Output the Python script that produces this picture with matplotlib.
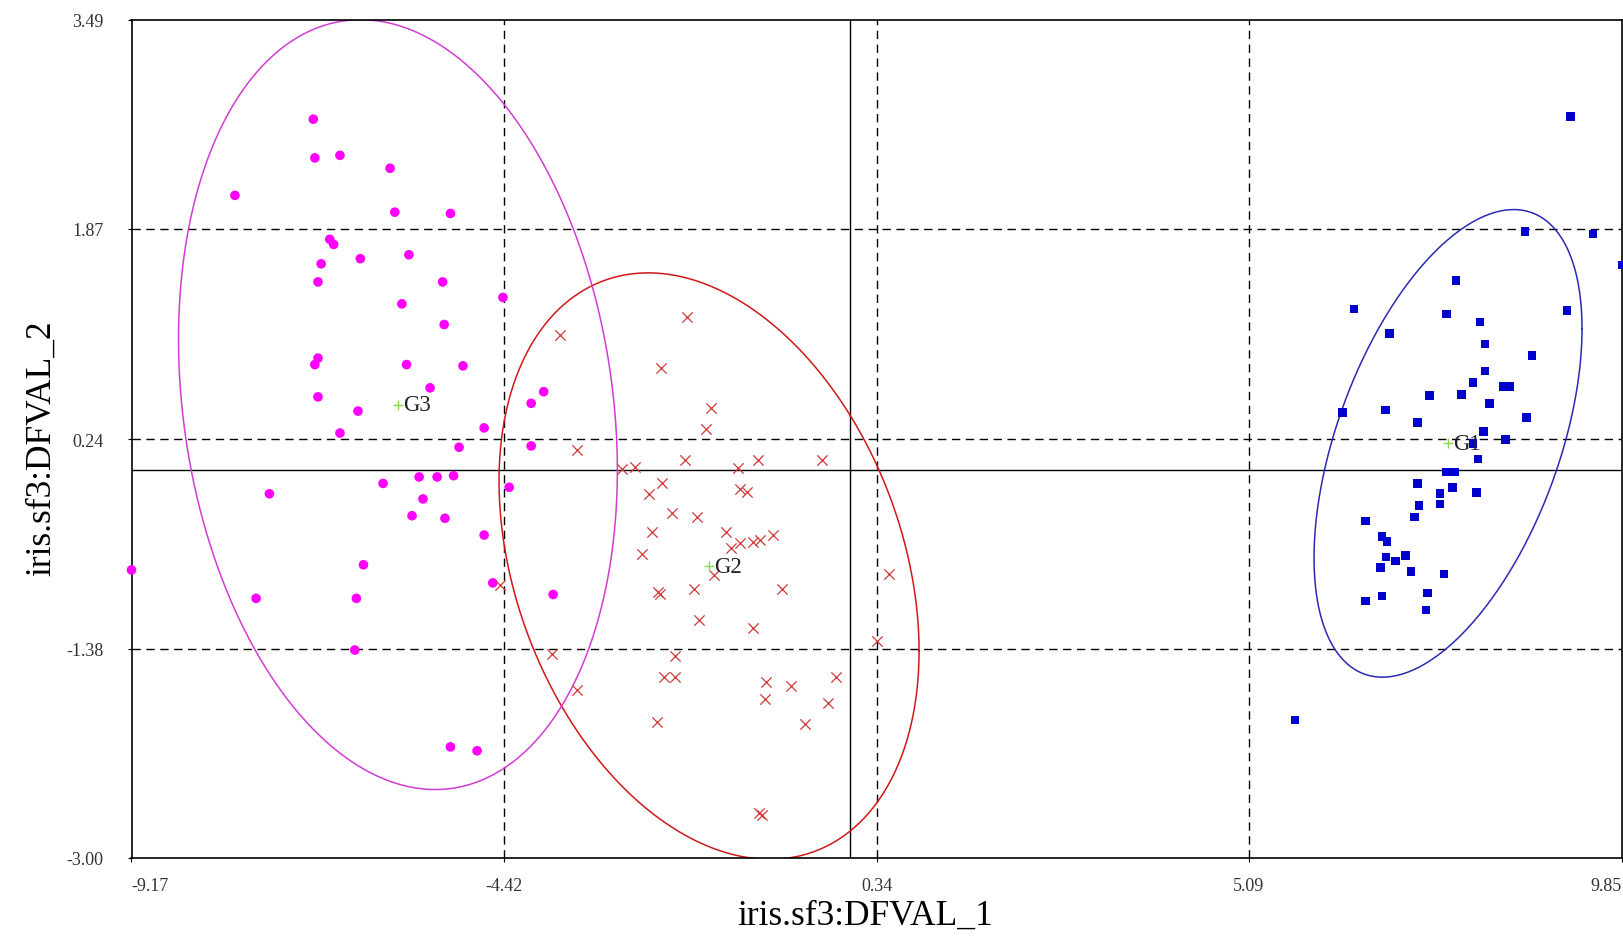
import numpy as np
import matplotlib
matplotlib.use("Agg")
import matplotlib.pyplot as plt

plt.rcParams['font.family'] = ['Liberation Serif', 'DejaVu Serif']

# ---- data ----
g3_x = [-6.85, -6.83, -6.51, -5.87, -7.85, -5.81, -5.10, -6.64, -6.59, -6.75,
        -6.25, -5.63, -6.79, -5.20, -4.43, -5.72, -5.18, -6.79, -6.83, -5.66,
        -4.94, -5.36, -6.79, -6.28, -3.91, -4.07, -4.67, -4.07, -4.35, -4.67,
        -4.56, -6.51, -4.99, -5.96, -5.50, -5.27, -5.06, -7.41, -5.45, -5.59,
        -5.17, -9.17, -6.21, -3.79, -7.58, -6.30, -6.32, -5.10, -4.76]
g3_y = [2.72, 2.42, 2.44, 2.34, 2.13, 2.00, 1.99, 1.79, 1.75, 1.60,
        1.64, 1.67, 1.46, 1.46, 1.34, 1.29, 1.13, 0.87, 0.82, 0.82,
        0.81, 0.64, 0.57, 0.46, 0.61, 0.52, 0.33, 0.19, -0.13, -0.50,
        -0.87, 0.29, 0.18, -0.10, -0.05, -0.05, -0.04, -0.18, -0.22, -0.35,
        -0.37, -0.77, -0.73, -0.96, -0.99, -0.99, -1.39, -2.14, -2.17]

g2_x = [-3.70, -2.08, -2.41, -1.77, -1.84, -3.49, -2.11, -1.17, -0.36, -2.91,
        -2.74, -1.43, -2.40, -2.57, -1.40, -1.31, -2.27, -1.95, -2.53, -1.59,
        -1.40, -1.24, -1.15, -0.98, -1.52, -2.65, 0.50, -1.74, -2.45, -2.42,
        -1.99, -0.87, -1.93, -1.24, 0.34, -3.81, -2.23, -2.38, -2.24, -1.07,
        -0.75, -0.18, -3.49, -1.09, -0.28, -2.46, -0.58, -1.16, -1.13, -4.47]
g2_y = [1.05, 1.19, 0.79, 0.48, 0.32, 0.16, 0.08, 0.08, 0.08, 0.01,
        0.03, 0.02, -0.10, -0.18, -0.14, -0.17, -0.33, -0.36, -0.48, -0.48,
        -0.56, -0.55, -0.54, -0.50, -0.60, -0.65, -0.80, -0.81, -0.94, -0.96,
        -0.92, -0.92, -1.16, -1.22, -1.32, -1.42, -1.44, -1.60, -1.60, -1.64,
        -1.67, -1.60, -1.70, -1.77, -1.80, -1.95, -1.96, -2.65, -2.67, -0.89]

g1_x = [9.19, 8.61, 9.48, 9.85, 7.73, 6.43, 7.61, 9.15, 8.04, 6.88,
        8.10, 8.70, 8.10, 7.95, 8.34, 8.42, 7.39, 7.80, 8.16, 6.28,
        6.83, 8.63, 7.24, 8.08, 7.95, 8.36, 8.01, 7.61, 7.71, 7.24,
        7.69, 7.53, 7.99, 7.26, 7.53, 7.20, 6.58, 6.79, 6.85, 7.09,
        6.84, 6.96, 6.77, 7.16, 7.58, 7.37, 6.58, 6.79, 7.35, 5.68]
g1_y = [2.74, 1.85, 1.83, 1.59, 1.47, 1.25, 1.21, 1.24, 1.15, 1.06,
        0.98, 0.89, 0.77, 0.68, 0.65, 0.65, 0.58, 0.59, 0.52, 0.45,
        0.47, 0.41, 0.37, 0.30, 0.21, 0.24, 0.09, -0.01, -0.01, -0.10,
        -0.13, -0.18, -0.17, -0.27, -0.26, -0.36, -0.39, -0.51, -0.55, -0.66,
        -0.67, -0.70, -0.75, -0.78, -0.80, -0.95, -1.01, -0.97, -1.08, -1.93]

centroid_names = ['G1', 'G2', 'G3']
centroid_x = [7.63, -1.80, -5.77]
centroid_y = [0.21, -0.74, 0.51]

# ellipse half-extents (x, y) and correlation per group (G1, G2, G3)
ell_sx = [1.71, 2.68, 2.80]
ell_sy = [1.81, 2.27, 2.98]
ell_r = [0.49, -0.29, -0.17]

x_ticks = [-9.17, -4.42, 0.34, 5.09, 9.85]
y_ticks = [-3.00, -1.38, 0.24, 1.87, 3.49]
x_label = 'iris.sf3:DFVAL_1'
y_label = 'iris.sf3:DFVAL_2'

# ---- figure ----
fig = plt.figure(figsize=(16.24, 9.37), dpi=100)
ax = fig.add_axes([131.5 / 1624, 78 / 937, 1490.5 / 1624, 838.3 / 937])
ax.set_xlim(x_ticks[0], x_ticks[-1])
ax.set_ylim(y_ticks[0], y_ticks[-1])

# grid lines at ticks (dashed) and axes through zero (solid)
for xv in x_ticks[1:-1]:
    ax.axvline(xv, color='black', lw=1.0, ls=(0, (6, 4)), zorder=1)
for yv in y_ticks[1:-1]:
    ax.axhline(yv, color='black', lw=1.0, ls=(0, (6, 4)), zorder=1)
ax.axvline(0, color='black', lw=1.0, zorder=1)
ax.axhline(0, color='black', lw=1.0, zorder=1)

# points
ax.scatter(g3_x, g3_y, s=48, marker='o', color='#ff00ff', edgecolors='none',
           zorder=3, clip_on=False)
ax.scatter(g2_x, g2_y, s=55, marker='x', color='#d03a3a', linewidths=0.9,
           zorder=3, clip_on=False)
ax.scatter(g1_x, g1_y, s=38, marker='s', color='#0000cc', edgecolors='none',
           zorder=3, clip_on=False)

# ellipses
ell_colors = ['#2a2ab4', '#d01818', '#d23cd2']
t = np.linspace(0, 2 * np.pi, 400)
for cx, cy, sx, sy, r, col in zip(centroid_x, centroid_y, ell_sx, ell_sy, ell_r, ell_colors):
    cov = np.array([[sx * sx, r * sx * sy], [r * sx * sy, sy * sy]])
    L = np.linalg.cholesky(cov)
    pts = L @ np.vstack([np.cos(t), np.sin(t)])
    ax.plot(cx + pts[0], cy + pts[1], color=col, lw=1.1, zorder=2)

# centroids
ax.scatter(centroid_x, centroid_y, marker='+', s=60, color='#8cd650',
           linewidths=1.0, zorder=4)
for nm, cx, cy in zip(centroid_names, centroid_x, centroid_y):
    ax.annotate(nm, (cx, cy), xytext=(4, 0), textcoords='offset points',
                ha='left', va='center', fontsize=16.5, color='#222222', zorder=5)

# ticks
ax.set_xticks(x_ticks)
ax.set_xticklabels([f'{v:.2f}' for v in x_ticks])
ax.set_yticks(y_ticks)
ax.set_yticklabels([f'{v:.2f}' for v in y_ticks])
ax.tick_params(axis='both', length=3, width=0.8, labelsize=13, colors='black',
               labelcolor='#333333')
ax.tick_params(axis='x', pad=11)
ax.tick_params(axis='y', pad=17)
xl = ax.get_xticklabels()
xl[0].set_ha('left')
xl[-1].set_ha('right')

for sp in ax.spines.values():
    sp.set_color('black')
    sp.set_linewidth(1.2)

ax.set_xlabel(x_label, fontsize=25.5)
ax.xaxis.set_label_coords(0.492, -0.048)
ax.set_ylabel(y_label, fontsize=25.5)
ax.yaxis.set_label_coords(-0.0495, 0.49)

fig.savefig('out.png', dpi=100)
